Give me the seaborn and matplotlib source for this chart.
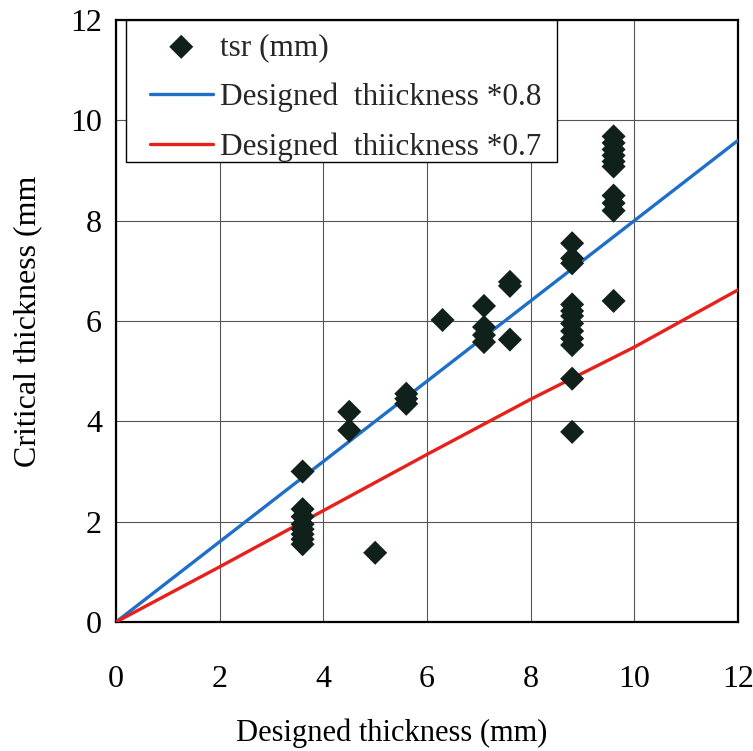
import numpy as np
import pandas as pd
import matplotlib
matplotlib.use("Agg")
import matplotlib.pyplot as plt
from matplotlib.patches import Rectangle
import seaborn as sns

# measured points: designed thickness (mm) -> critical thickness tsr (mm)
tsr_x = ([3.6] * 8 + [4.5] * 2 + [5.0] + [5.6] * 3 + [6.3] + [7.1] * 4
         + [7.6] * 3 + [8.8] * 12 + [9.6] * 10)
tsr_y = ([3.0, 2.25, 2.1, 1.95, 1.85, 1.75, 1.65, 1.55,
          4.19, 3.82,
          1.38,
          4.55, 4.45, 4.35,
          6.02,
          6.3, 5.88, 5.72, 5.58,
          6.78, 6.7, 5.63,
          7.55, 7.25, 7.15, 6.33, 6.2, 6.1, 5.95, 5.8, 5.65, 5.52, 4.85, 3.79,
          9.68, 9.55, 9.42, 9.3, 9.18, 9.08, 8.5, 8.35, 8.2, 6.4])

# reference lines
line_x = [0, 2, 4, 6, 8, 10, 12]
line08_y = [0, 1.6, 3.2, 4.8, 6.4, 8.0, 9.6]
line07_y = [0, 1.1, 2.22, 3.34, 4.44, 5.48, 6.62]

ticks = [0, 2, 4, 6, 8, 10, 12]

sns.set_theme(style="white")
plt.rcParams["font.family"] = ["Liberation Serif", "DejaVu Serif"]

pts = pd.DataFrame({"x": tsr_x, "y": tsr_y})
lines = pd.DataFrame({"x": line_x, "y08": line08_y, "y07": line07_y})

fig = plt.figure(figsize=(7.53, 7.51), dpi=100)
ax = fig.add_axes([116 / 753, 1 - 622 / 751, 622 / 753, 602 / 751])

ax.grid(True, color="#555555", linewidth=0.8)
ax.set_axisbelow(True)

sns.lineplot(data=lines, x="x", y="y08", color="#1f6fc8", linewidth=2.4,
             ax=ax, label="Designed  thiickness *0.8", zorder=3)
sns.lineplot(data=lines, x="x", y="y07", color="#e8201c", linewidth=2.4,
             ax=ax, label="Designed  thiickness *0.7", zorder=3)
sns.scatterplot(data=pts, x="x", y="y", marker="D", s=150, color="#10201a",
                edgecolor="none", ax=ax, label="tsr (mm)", zorder=4)

ax.set_xlim(0, 12)
ax.set_ylim(0, 12)
ax.set_xticks(ticks)
ax.set_yticks(ticks)
ax.tick_params(axis="both", length=0, labelsize=23, colors="black")
ax.tick_params(axis="x", pad=31)
ax.tick_params(axis="y", pad=10)

for s in ax.spines.values():
    s.set_color("black")
    s.set_linewidth(1.6)

ax.set_xlabel("Designed thickness (mm)", fontsize=22, color="black")
ax.set_ylabel("Critical thickness (mm", fontsize=23, color="black")
ax.xaxis.set_label_coords(0.444, -0.16)
ax.yaxis.set_label_coords(-0.119, 0.5)

# legend box
box = Rectangle((10 / 622, 1 - 142 / 602), 431 / 622, 142 / 602,
                transform=ax.transAxes, facecolor="white", edgecolor="black",
                linewidth=1.0, zorder=5, clip_on=False)
ax.add_patch(box)

handles, labels = ax.get_legend_handles_labels()
order = [2, 0, 1]
leg = ax.legend([handles[i] for i in order], [labels[i] for i in order],
                loc="upper left", bbox_to_anchor=(34 / 622, 1 - 13 / 602),
                fontsize=22.5, frameon=False, handlelength=2.0,
                handletextpad=0.25, labelspacing=0.66,
                borderpad=0, borderaxespad=0)
leg.set_zorder(6)

fig.savefig("out.png", dpi=100)
